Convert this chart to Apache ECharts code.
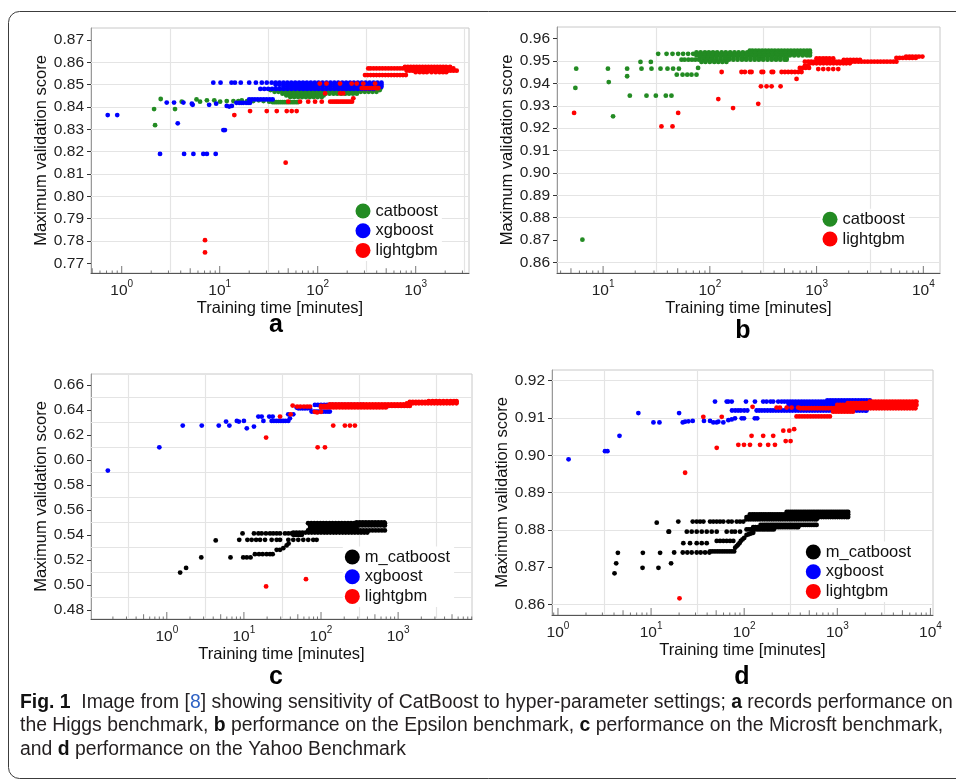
<!DOCTYPE html>
<html><head><meta charset="utf-8">
<script src="https://cdn.jsdelivr.net/npm/echarts@6/dist/echarts.min.js"></script>
<style>html,body{margin:0;padding:0;background:#fff}#c{width:956px;height:780px}</style>
</head><body><div id="c"></div>
<script>
// ---------------- DATA ----------------
// Panel a (Higgs)
const A_CAT_PTS = [[2.14,.8391],[2.19,.8319],[2.50,.8436],[3.5,.8391],[4.1,.8424],[5.8,.8434],[6.3,.8424],[7.4,.8430],[8.8,.8430],[10.1,.8424],[11.8,.8427],[13.8,.8427],[15.5,.8427],[16.8,.8430],[19,.8427],[22,.8427],[25,.8430],[28,.8427],[32,.8424]];
const A_CAT_ROWS = [
 [.8422,[34.7,36.3,38,39.8,41.7,43.7,45.7,47.9,50.1,52.5,55,57.5,60.3,63.1]],
 [.8484,[229,240,251,263,275,288,302,316,331,347,363,380,398,417,437]],
 [.8476,[33,36.3,39.8,43.7,47.9,52.5,57.5,63.1,69.2,75.9,83.2,91.2,100,110,120,132,145,158,174,191,209,229,251,275,302,331,363,398,430]],
 [.8468,[36.3,39.8,43.7,47.9,52.5,57.5,63.1,69.2,75.9,83.2,91.2,100,110,120,132,145,158,174,191,209,229,251,275,302,331,363,398]],
 [.8460,[43.7,47.9,52.5,57.5,63.1,69.2,75.9,83.2,91.2,100,110,120,132,145,158,174,191,209,229,251]],
 [.8452,[47.9,52.5,57.5,63.1,69.2,75.9,83.2,91.2,100,110,115]],
 [.8445,[52.5,57.5,63.1,69.2,75.9,83.2,91.2,100,110]]];
const A_XGB_PTS = [[0.72,.8364],[0.90,.8364],[2.46,.8190],[4.33,.8190],[5.39,.8190],[6.8,.8190],[7.4,.8190],[9.1,.8190],[3.73,.8327],[10.9,.8297],[11.3,.8297],[2.88,.8420],[3.42,.8420],[4.26,.8420],[5.2,.8415],[5.3,.8410],[7.8,.8410],[9.2,.8415],[11.8,.8405],[12.5,.8402],[13.3,.8405]];
const A_XGB_ROWS = [
 [.8419,[14.8,15.8,16.6,17.4,18.6,19.5,20.4]],
 [.8434,[20,21.4,22.9,24.5,26.3,28.2,30.2,32.4,34.7]],
 [.8509,[8.6,10.2,13.2,14.3,16.4,20,23.4,26.9,30.2,33.9,37.2,40.7,44.7,49,53.7,58.9,64.6,70.8,77.6,85.1,93.3,102,112,123,135,148,162,178,195,214,234,257,282,309,339,372,407,447]],
 [.8500,[37.2,40.7,44.7,49,53.7,58.9,64.6,70.8,77.6,85.1,93.3,102,112,123,135,148,162,178,195,214,234,257,282,309,339,372,407,447]],
 [.8491,[44.7,49,53.7,58.9,64.6,70.8,77.6,85.1,93.3,102,112,123,135,148,162,178,195,214,234,257,282,309,339,372,407,447]],
 [.8481,[26,28.5,31.2,34.2,37.5,41,45,49.3,54,59.2,64.9,71.1,77.9,85.4,93.6,102,112,123,135,148,162,178,195,214,234,257,282,309,339,372]]];
const A_LGB_PTS = [[7.08,.7804],[7.08,.7749],[47.1,.8151],[14.1,.8364],[20.4,.8382],[30.2,.8382],[38.2,.8382],[48.3,.8382],[54.3,.8382],[61,.8382],[50,.8424],[66,.8424],[80,.8424],[94,.8424],[110,.8424],[231,.8439],[119,.8461],[169,.8461],[182,.8461]];
const A_LGB_ROWS = [
 [.8424,[134,141,148,155,162,170,178,186,195,204,214,224]],
 [.8505,[105,123,169,222,250,292,385]],
 [.8485,[281,295,309,324,339,355,372,389,407,416]],
 [.8543,[304,324,347,372,398,427,457,490,525,562,603,646,692,741,794]],
 [.8573,[328,347,372,398,427,457,490,525,562,603,646,692,741,794,851,912,977,1047,1122,1202,1288,1380,1479,1585,1698,1820,1950,2089,2240,2420]],
 [.8580,[778,832,891,955,1023,1096,1175,1259,1349,1445,1549,1660,1778,1905,2041,2240]],
 [.8563,[809,867,929,995,1066,1142,1224,1311,1405,1505,1613,1728,1851,1984,2125,2277,2440,2620]],
 [.8556,[1000,1100,1200,1300,1450,1600,1750,1900,2050]]];

// Panel b (Epsilon)
const B_CAT_PTS = [[5.6,.9466],[5.5,.9380],[6.4,.8702],[11.1,.9466],[11.3,.9406],[12.4,.9253],[16.8,.9466],[16.8,.9432],[17.8,.9345],[22.4,.9496],[22.9,.9466],[25.5,.9345],[28,.9496],[28.4,.9466],[31.2,.9345],[34.5,.9466],[38.7,.9345],[40.1,.9466],[43.7,.9345],[45.3,.9466],[51.3,.9466],[49,.9439],[55.5,.9439],[61.4,.9439],[67.3,.9439],[75,.9439],[77.6,.9469]];
const B_CAT_ROWS = [
 [.9532,[32.8,39.3,44.7,50.5,56.2,62.6,69.8]],
 [.9546,[237,251,269,288,309,331,355,380,407,437,468,501,537,575,617,661,708,759,813,866]],
 [.9539,[75,82,90,98,107,117,129,141,155,170,186,204,224,245,269,295,324,355,389,427,468,513,562,617,676,741,813,866]],
 [.9532,[79,87,95,104,115,126,138,151,166,182,200,219,240,263,288,316,347,380,417,457,501,550,603,661,724,794,866]],
 [.9525,[75,82,90,98,107,117,129,141,155,170,186,204,224,245,269,295,324,355,389,427,468,513,562,617,676,741,813,866]],
 [.9514,[80.5,88,96,105,115,126,138,151,166,182,200,219,240,263,288,316,347,380,417,457,501,524]],
 [.9506,[54.3,58,63,68,73,79,87,95,104,115,126,138,151,166,182,200,219,240,263,288,316,347,380,417,457,501,524]],
 [.9496,[83.5,91,100,110,120,131,143]]];
const B_LGB_PTS = [[5.35,.9268],[35.2,.9208],[44.7,.9208],[50.5,.9268],[120,.9330],[165,.9290],[284,.9309],[129,.9451],[301,.9387],[340,.9387],[379,.9387],[460,.9387],[649,.9420],[1037,.9464],[1155,.9464],[1288,.9464],[1432,.9464],[1596,.9464]];
const B_LGB_ROWS = [
 [.9451,[198,213,237,246,305,316,379,392,470,505,542,583,627,673,723]],
 [.9469,[697,740,790,850]],
 [.9478,[777,800,830]],
 [.9490,[870,929,1000,1080,1160,1250,1340,1440,1550,1660,1780,1900,2050]],
 [.9497,[777,835,890,955,1000,1072,1150,1230,1320,1410,1510,1620,1740,1860,2000,2140,2290,2460,2630,2820,3020,3240,3470,3720,3980,4270,4570,4900,5250,5600]],
 [.9505,[1800,1930,2070,2220,2380,2550]],
 [.9512,[1000,1070,1150,1230,1320,1430]],
 [.9514,[5600,6000,6430,6900,7400,7900,8500]],
 [.9520,[6900,7400,7900,8500,9100,9800]]];

// Panel c (Microsoft)
const C_MC_PTS = [[1.49,.5098],[1.78,.5135],[2.8,.5219],[4.31,.5355],[6.7,.5219],[8.7,.5360],[9.6,.5411],[9.8,.5219],[10.9,.5219],[12.2,.5219],[26.6,.5280],[29.4,.5280],[32.4,.5293],[35.8,.5315],[38,.5330]];
const C_MC_ROWS = [
 [.5245,[13.9,15.7,17.5,19.7,21.8,23.6]],
 [.5360,[11.1,12.6,14.4,16.2,18.8,22.9,26.6,29.4,37.7,43.7,50.7,58.9,68.3,79.3,87.7]],
 [.5411,[13.5,15.4,17,19.3,21.8,24,26.6,29.4,34.1,37.7,41.6]],
 [.5400,[43.7,46,48.5,51,53.7,56.5]],
 [.5418,[43.7,47.9,52.5,57.5,63.1,69.2,75.9,83.2,91.2,100,110,120,132,145,158,174,191,209,229,251,275,302,331,363,398]],
 [.5435,[68,74.5,81.6,89.4,98,107,117,129,141,155,170,186,204,224,245,269,295,324,355,389,427,468,513,562,617,673]],
 [.5453,[72,79,86.5,94.8,104,114,125,137,150,164,180,197,216,237,260,290]],
 [.5475,[72,79,86.5,94.8,104,114,125,137,150,164,180,197,216,237,260,285,312,342,375,411,450,493,540,592,650,673]],
 [.5493,[68,74.5,81.6,89.4,98,107,117,129,141,155,170,186,204,224,245,269,295,324,355,389,427,468,513,562,617,673]],
 [.5500,[290,318,348,381,418,458,502,550,603,660]]];
const C_XGB_PTS = [[0.172,.5915],[0.80,.6101],[1.61,.6275],[2.84,.6275],[4.72,.6275],[5.87,.6307],[6.48,.6275],[8.1,.6312],[8.6,.6307],[10,.6312],[10.9,.6253],[13.5,.6267],[15.4,.6347],[17,.6347],[17.9,.6312],[21.3,.6347],[23.6,.6347],[39.5,.6333],[37.6,.6365],[43.7,.6365],[48.3,.6419],[57,.6416],[62,.6416]];
const C_XGB_ROWS = [
 [.6312,[22.9,24.5,26.3,28.2,30.2,32.4,34.7,37.6]],
 [.6413,[50.7,54,58,62,66.5,71.8]],
 [.6387,[75.5,81,87,93,100,107,115,123,130]],
 [.6440,[83.4,91,100,110,120,132,145,158,174,191,209,229,251,275,302,331,352]],
 [.6427,[130,141,155,170,186,204,224,245,269,295,324,355,389,430,470,520,575,640,708]],
 [.6434,[708,780,860,950,1050,1160,1285]]];
const C_LGB_PTS = [[19.4,.6179],[90.4,.6101],[112.5,.6101],[63.8,.5045],[19.4,.4987],[29.4,.6347],[42.9,.6435],[40.4,.6365],[83,.6385],[89,.6380],[100,.6385],[144,.6275],[204,.6275],[237,.6275],[275,.6275]];
const C_LGB_ROWS = [
 [.6427,[49,54,60,66,72]],
 [.6445,[130,141,155,170,186,204,224,245,269,295,324,355,389,427,468,513,562,617,676,741,813,891,977,1072,1175,1288,1418]],
 [.6432,[100,110,120,132,145,158,174,191,209,229,251,275,302,331,363,398,437,479,525,575,631,692,759,832,912,1000,1096,1202,1318,1418]],
 [.6420,[100,110,120,132,145,158,174,191,209,229,251,275,302,331,363,398,437,479,525,575,631,692]],
 [.6453,[1300,1420,1550,1700,1860,2040,2240,2450,2690,2950,3240,3550,3890,4270,4680,5130,5710]],
 [.6464,[1418,1550,1700,1860,2040,2240,2450,2690,2950,3240,3550,3890,4270,4680,5130,5710]],
 [.6470,[2500,2800,3100,3450,3850,4300,4800,5300,5710]]];

// Panel d (Yahoo)
const D_MC_PTS = [[4.05,.8683],[4.22,.8710],[4.4,.8738],[8.16,.8738],[8.1,.8698],[12,.8698],[12.5,.8738],[11.5,.8819],[15.6,.8795],[16.4,.8710],[19.6,.8822],[80,.8752],[83,.8756],[86,.8760],[89,.8764],[92,.8770],[96,.8774],[100,.8778],[106,.8786],[112,.8788],[118,.8790],[125,.8792]];
const D_MC_ROWS = [
 [.8739,[17.7,21.9,24.5,27.3,30.9,34.1,38,42.3]],
 [.8742,[43,45.7,48.5,51.5,54.7,58,61.6,65.4,69.4,73.7,78]],
 [.8764,[22.2,26.2,30.9,35,39.6]],
 [.8770,[50.7,55,59.7,64.9,70.4,76.4]],
 [.8795,[15.4,24.2,27.3,30.9,35,39.6,44.8,50.7,64.9,73.5,79.7,90.2]],
 [.8822,[28,30.9,33.6,36.5,43,46.6,50.7,55,59.7,67.6,73.5,83.2,90.2,97.8]],
 [.8801,[106,112,118,125,132,140,148,157,166,176,186,197,208]],
 [.8807,[125,132,140,148,157,166,176,186,197,208,220,233,246,260,275,291,308,326,345,365,380]],
 [.8813,[150,158,166,174,182,191,200,209,219,229,240,251,263,275,288,302,316,331,347,363,380,398,417,437,457,479,501,525,550,575,599]],
 [.8828,[106,112,118,125,132,140,148,157,166,176,186,197,208,220,233,246,260,275,291,308,326,345,365,386,408,432,457,483,511,541,572,600]],
 [.8834,[106,112,118,125,132,140,148,157,166,176,186,197,208,220,233,246,260,275,291,308,326,345,365,386,408,432,457,483,511,541,572,605,640,677,716,757,801,847,896,948,1003,1061,1122,1187,1256,1308]],
 [.8841,[115,122,129,137,145,153,162,171,181,191,202,214,226,239,253,268,283,300,317,335,355,375,397,420,444,470,497,526,556,588,622,658,696,736,779,824,871,921,975,1031,1091,1154,1221,1291,1308]],
 [.8848,[286,300,316,331,347,363,380,398,417,437,457,479,501,525,550,575,603,631,661,692,724,759,794,832,871,912,955,1000,1047,1096,1148,1202,1259,1308]]];
const D_XGB_PTS = [[1.30,.8989],[3.2,.9011],[3.4,.9011],[4.58,.9052],[7.3,.9113],[10.6,.9088],[12.3,.9088],[20,.9113],[21.9,.9088],[23.2,.9090],[25.2,.9091],[28,.9092],[37,.9092],[43,.9092],[46.6,.9088],[50.7,.9088],[52.8,.9090],[59.7,.9088],[67.6,.9094],[73.5,.9096],[79.7,.9099],[94,.9099],[99.5,.9099],[130,.9099],[138,.9099]];
const D_XGB_ROWS = [
 [.9120,[74,80,86,92,100,108,136,145,155,166,178,191,204,219,234,251,269,288,309,331,355,380,407,437,468,501,537,575,617,661,708,759,813,871,933,1000,1072,1148,1230,1318,1413,1514,1622,1738,1862,1995,2060]],
 [.9144,[48.6,64.9,67.6,73.5,104.5,130.5,160,174,192,205,232,252,270,290,311,333,357,383,411,440,472,506,543,582,624,669,717,769,825,884,948,1016,1090,1169,1253,1343,1440,1545,1656,1776,1905,2042,2234]],
 [.9138,[300,322,345,370,397,425,456,489,524,562,603,646,693,743,797,854,916,982,1053,1129,1210,1298,1391,1492,1600,1715,1839,1972,2114,2234]],
 [.9130,[300,322,345,370,397,425,456,489,524,562,603,646,693,743,797,854,916,982,1053,1129,1210,1298,1391,1492]],
 [.9147,[781,838,898,963,1033,1107,1187,1273,1365,1463,1569,1682,1804,1934,2074,2234]]];
const D_LGB_PTS = [[20.2,.8616],[23.2,.8953],[50.7,.9020],[36.4,.9103],[57.4,.9103],[120,.9052],[160,.9052],[205,.9052],[86.5,.9028],[99.5,.9028],[115.4,.9028],[148,.9028],[181,.9028],[214,.9028],[263,.9066],[305,.9066],[344,.9070],[279,.9038],[315,.9038],[123,.9130]];
const D_LGB_ROWS = [
 [.9128,[223,242,286,323,380]],
 [.9104,[365,390,418,448,480,514,550,590,632,677,725,777,832]],
 [.9126,[400,430,461,494,530,568,609,653,700,750,804,862,924,990,1062,1138,1220,1308,1402,1503,1611,1727,1851,1984,2127,2280,2444,2620,2809,3011,3228,3460,3709,3976,4262,4569,4898,5250,5628,6033,6467,6900]],
 [.9117,[903,968,1038,1113,1193,1279,1371,1470]],
 [.9135,[1000,1072,1150,1233,1322,1418,1520,1630,1748,1874,2010,2155,2311,2478,2657,2849,3055,3276,3513,3767,4039,4331,4644,4980,5340,5726,6140,6584,7080]],
 [.9144,[2234,2400,2570,2760,2960,3170,3400,3650,3910,4190,4500,4820,5170,5550,5950,6380,6840,7080]],
 [.9140,[1300,1400,1500,1610,1730,1860,2000,2150,2310]]];

// Tick labels / gridlines
const A_YTICKS = [.77,.78,.79,.80,.81,.82,.83,.84,.85,.86,.87];
const B_YTICKS = [.86,.87,.88,.89,.90,.91,.92,.93,.94,.95,.96];
const C_YTICKS = [.48,.50,.52,.54,.56,.58,.60,.62,.64,.66];
const D_YTICKS = [.86,.87,.88,.89,.90,.91,.92];
const A_XTICKS = [1,10,100,1000];
const B_XTICKS = [10,100,1000,10000];
const C_XTICKS = [1,10,100,1000];
const D_XTICKS = [1,10,100,1000,10000];
const A_YGRID = [.775,.785,.795,.805,.815,.825,.835,.845,.855,.865];
const B_YGRID = [.865,.875,.885,.895,.905,.915,.925,.935,.945,.955];
const C_YGRID = [.49,.51,.53,.55,.57,.59,.61,.63,.65];
const D_YGRID = [.865,.875,.885,.895,.905,.915];
const A_XGRID = [3.162,31.62,316.2,3162];
const B_XGRID = [31.62,316.2,3162];
const C_XGRID = [0.3162,3.162,31.62,316.2,3162];
const D_XGRID = [3.162,31.62,316.2,3162];
const LOG_MANTISSAS = [1,2,3,4,5,6,7,8,9];
const LOG_EXPONENTS = [-1,0,1,2,3,4];

// ---------------- CHART ----------------
const FONT = "'Liberation Sans', Arial, sans-serif";
const COLORS = {catboost:'#238b23', m_catboost:'#000000', xgboost:'#0000ff', lightgbm:'#ff0000'};

const PANELS = [
 {grid:{left:91,top:28,width:378,height:245}, xr:[0.486,3499], yr:[0.7657,0.8754], ystep:.01, yTicks:A_YTICKS, xTicks:A_XTICKS, xGrid:A_XGRID, yGrid:A_YGRID,
  series:[['catboost',A_CAT_PTS,A_CAT_ROWS],['xgboost',A_XGB_PTS,A_XGB_ROWS],['lightgbm',A_LGB_PTS,A_LGB_ROWS]], legend:[353.5,200.5], letter:['a',276,325.5], nameGapX:26.5},
 {grid:{left:557,top:27,width:383,height:246}, xr:[3.7,14330], yr:[0.8553,0.9652], ystep:.01, yTicks:B_YTICKS, xTicks:B_XTICKS, xGrid:B_XGRID, yGrid:B_YGRID,
  series:[['catboost',B_CAT_PTS,B_CAT_ROWS],['lightgbm',B_LGB_PTS,B_LGB_ROWS]], legend:[820.5,208.8], letter:['b',743,331], nameGapX:26},
 {grid:{left:91,top:374,width:381,height:245}, xr:[0.104,9080], yr:[0.4726,0.6688], ystep:.02, yTicks:C_YTICKS, xTicks:C_XTICKS, xGrid:C_XGRID, yGrid:C_YGRID,
  series:[['m_catboost',C_MC_PTS,C_MC_ROWS],['xgboost',C_XGB_PTS,C_XGB_ROWS],['lightgbm',C_LGB_PTS,C_LGB_ROWS]], legend:[342.8,546.5], letter:['c',276,677], nameGapX:25.5},
 {grid:{left:552,top:370,width:381,height:245}, xr:[0.863,10660], yr:[0.85713,0.92287], ystep:.01, yTicks:D_YTICKS, xTicks:D_XTICKS, xGrid:D_XGRID, yGrid:D_YGRID,
  series:[['m_catboost',D_MC_PTS,D_MC_ROWS],['xgboost',D_XGB_PTS,D_XGB_ROWS],['lightgbm',D_LGB_PTS,D_LGB_ROWS]], legend:[803.8,541.5], letter:['d',742,677], nameGapX:25.5}
];

function rowsToPts(rows){ const out=[]; rows.forEach(([y,xs])=>xs.forEach(x=>out.push([x,y]))); return out; }

const grids=[], xAxes=[], yAxes=[], series=[], legends=[], graphics=[];
PANELS.forEach((p,i)=>{
  grids.push(Object.assign({show:true, borderColor:'#c8c8c8', borderWidth:1, backgroundColor:'#fff'}, p.grid));
  xAxes.push({type:'log', logBase:10, gridIndex:i, min:p.xr[0], max:p.xr[1],
    axisLine:{show:true, lineStyle:{color:'#555', width:1}}, axisTick:{show:false}, splitLine:{show:false},
    axisLabel:{customValues:p.xTicks, margin:6, color:'#222', fontFamily:FONT, fontSize:15.5,
      formatter:(v)=>{const l=Math.log10(v), e=Math.round(l); if(Math.abs(l-e)>1e-6) return ''; return '{m|10}{s|'+e+'}';},
      rich:{m:{fontSize:15.5, fontFamily:FONT, color:'#222', lineHeight:20, verticalAlign:'bottom'}, s:{fontSize:10, fontFamily:FONT, color:'#222', lineHeight:9, verticalAlign:'top'}}},
    name:'Training time [minutes]', nameLocation:'middle', nameGap:p.nameGapX,
    nameTextStyle:{fontFamily:FONT, fontSize:16.5, color:'#111'}});
  const st=p.ystep;
  yAxes.push({type:'value', gridIndex:i, min:p.yr[0], max:p.yr[1], splitNumber:Math.round((p.yr[1]-p.yr[0])/st),
    axisLine:{show:true, lineStyle:{color:'#999', width:1}},
    axisTick:{show:true, length:4, customValues:p.yTicks, lineStyle:{color:'#333'}}, splitLine:{show:false},
    axisLabel:{customValues:p.yTicks, margin:7, color:'#222', fontFamily:FONT, fontSize:15.5,
      formatter:(v)=>{const k=v/st; return Math.abs(k-Math.round(k))<1e-6 ? v.toFixed(2) : '';}},
    name:'Maximum validation score', nameLocation:'middle', nameGap:41,
    nameTextStyle:{fontFamily:FONT, fontSize:16.5, color:'#111'}});
  // log tick marks along the bottom + gridlines
  const tickItems=[];
  LOG_EXPONENTS.forEach(e=>LOG_MANTISSAS.forEach(m=>{
    const v=m*Math.pow(10,e);
    if(v>=p.xr[0] && v<=p.xr[1]){
      const len = m===1 ? 7 : (m===5 ? 4.7 : 2.5);
      tickItems.push({value:[v,p.yr[0]], symbolSize:[1,len], symbolOffset:[0,-len/2]});
    }
  }));
  series.push({type:'scatter', name:'ticks'+i, xAxisIndex:i, yAxisIndex:i, data:tickItems, symbol:'rect', clip:false, silent:true, z:2,
    itemStyle:{color:'#555'}, animation:false, emphasis:{disabled:true},
    markLine:{silent:true, z:1, symbol:['none','none'], label:{show:false}, animation:false, emphasis:{disabled:true},
      lineStyle:{color:'#e4e4e4', width:1.2, type:'solid'},
      data:[...p.xGrid.map(v=>({xAxis:v})), ...p.yGrid.map(v=>({yAxis:v}))]}});
  p.series.forEach(([name,pts,rows])=>{
    series.push({type:'scatter', name, xAxisIndex:i, yAxisIndex:i, data:pts.concat(rowsToPts(rows)),
      symbol:'circle', symbolSize:4.8, itemStyle:{color:COLORS[name], opacity:1}, z:3, silent:true, animation:false, emphasis:{disabled:true}});
  });
  legends.push({data:p.series.map(s=>s[0]), orient:'vertical', left:p.legend[0], top:p.legend[1], itemWidth:15, itemHeight:15, itemGap:2.7,
    icon:'circle', selectedMode:false, backgroundColor:'#fff', padding:[2,4,2,2],
    textStyle:{fontFamily:FONT, fontSize:16.5, color:'#111'}});
  graphics.push({type:'text', x:p.letter[1], y:p.letter[2], silent:true,
    style:{text:p.letter[0], fontFamily:FONT, fontSize:25, fontWeight:'bold', fill:'#000', align:'center', verticalAlign:'middle'}});
});

// caption
const CAP_FONT = "'Liberation Sans', Arial, sans-serif";
const CAP_LINES = [
 [['b','Fig. 1'],['n','  Image from ['],['l','8'],['n','] showing sensitivity of CatBoost to hyper-parameter settings; '],['b','a'],['n',' records performance on']],
 [['n','the Higgs benchmark, '],['b','b'],['n',' performance on the Epsilon benchmark, '],['b','c'],['n',' performance on the Microsft benchmark,']],
 [['n','and '],['b','d'],['n',' performance on the Yahoo Benchmark']]];
const mctx=document.createElement('canvas').getContext('2d');
function lineW(parts,size){ let w=0; parts.forEach(([s,t])=>{ mctx.font=(s==='b'?'bold ':'')+size+'px '+CAP_FONT; w+=mctx.measureText(t).width; }); return w; }
const capSize = Math.min(20, 100*933/lineW(CAP_LINES[0],100));
const capY=[702.5,726,749.5];
CAP_LINES.forEach((parts,k)=>{
  graphics.push({type:'text', x:20, y:capY[k], silent:true,
    style:{text:parts.map(([s,t])=>'{'+s+'|'+t+'}').join(''), verticalAlign:'middle', align:'left',
      rich:{b:{fontFamily:CAP_FONT, fontSize:capSize, fontWeight:'bold', fill:'#111'},
            n:{fontFamily:CAP_FONT, fontSize:capSize, fill:'#231f20'},
            l:{fontFamily:CAP_FONT, fontSize:capSize, fill:'#2f62c4'}}}});
});
// outer figure frame
graphics.push({type:'rect', silent:true, z:-10, shape:{x:8.5,y:11.5,width:1000,height:767,r:11}, style:{fill:'none', stroke:'#3c3c3c', lineWidth:1}});

const chart = echarts.init(document.getElementById('c'), null, {renderer:'canvas'});
chart.setOption({animation:false, backgroundColor:'#fff', grid:grids, xAxis:xAxes, yAxis:yAxes, series, legend:legends, graphic:graphics});
</script></body></html>
